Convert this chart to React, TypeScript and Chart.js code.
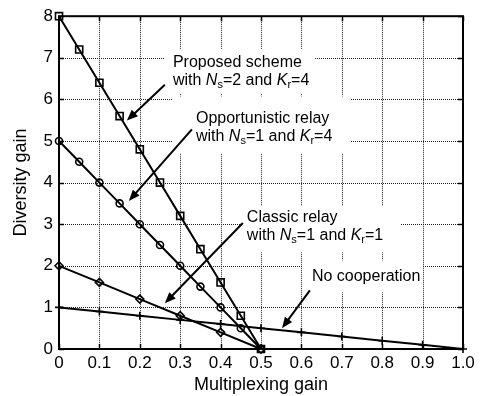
import { useEffect, useRef } from 'react';
import { Chart, registerables } from 'chart.js';

Chart.register(...registerables);

// ---- data ----
const proposedX = [0, 0.05, 0.1, 0.15, 0.2, 0.25, 0.3, 0.35, 0.4, 0.45, 0.5];
const proposedY = [8, 7.2, 6.4, 5.6, 4.8, 4.0, 3.2, 2.4, 1.6, 0.8, 0];
const opportunisticX = [0, 0.05, 0.1, 0.15, 0.2, 0.25, 0.3, 0.35, 0.4, 0.45, 0.5];
const opportunisticY = [5, 4.5, 4, 3.5, 3, 2.5, 2, 1.5, 1, 0.5, 0];
const classicX = [0, 0.1, 0.2, 0.3, 0.4, 0.5];
const classicY = [2, 1.6, 1.2, 0.8, 0.4, 0];
const noCoopX = [0, 0.1, 0.2, 0.3, 0.4, 0.5, 0.6, 0.7, 0.8, 0.9, 1.0];
const noCoopY = [1, 0.9, 0.8, 0.7, 0.6, 0.5, 0.4, 0.3, 0.2, 0.1, 0];

const xTickValues = [0, 0.1, 0.2, 0.3, 0.4, 0.5, 0.6, 0.7, 0.8, 0.9, 1.0];
const xTickLabels = ['0', '0.1', '0.2', '0.3', '0.4', '0.5', '0.6', '0.7', '0.8', '0.9', '1.0'];
const yTickValues = [0, 1, 2, 3, 4, 5, 6, 7, 8];
const yTickLabels = ['0', '1', '2', '3', '4', '5', '6', '7', '8'];

// annotation text: segments [text, style] style: '' normal, 'i' italic, 's' subscript
type Seg = [string, string];
const annotationLines: Seg[][][] = [
  [[['Proposed scheme', '']], [['with ', ''], ['N', 'i'], ['s', 's'], ['=2 and ', ''], ['K', 'i'], ['r', 's'], ['=4', '']]],
  [[['Opportunistic relay', '']], [['with ', ''], ['N', 'i'], ['s', 's'], ['=1 and ', ''], ['K', 'i'], ['r', 's'], ['=4', '']]],
  [[['Classic relay', '']], [['with ', ''], ['N', 'i'], ['s', 's'], ['=1 and ', ''], ['K', 'i'], ['r', 's'], ['=1', '']]],
  [[['No cooperation', '']]],
];
// text anchor (data units): left x, first line center y
const annotationAnchor = [
  [0.282, 6.88],
  [0.339, 5.54],
  [0.465, 3.15],
  [0.626, 1.74],
];
// white background boxes (data units): x0, x1, yTop, yBottom
const annotationBox = [
  [0.262, 0.634, 7.21, 6.14],
  [0.28, 0.72, 6.07, 4.7],
  [0.455, 0.844, 3.44, 2.32],
  [0.604, 0.901, 2.13, 1.36],
];
// arrows (data units): from x, from y, tip x, tip y
const arrows = [
  [0.262, 6.35, 0.168, 5.49],
  [0.329, 5.28, 0.173, 3.56],
  [0.455, 3.03, 0.262, 1.1],
  [0.621, 1.41, 0.552, 0.5],
];

const FONT = '"Liberation Sans", Arial, Helvetica, sans-serif';

const annotPlugin = {
  id: 'annot',
  beforeDatasetsDraw(chart: any) {
    const ctx = chart.ctx as CanvasRenderingContext2D;
    const xs = chart.scales.x;
    const ys = chart.scales.y;
    const { left, right, top, bottom } = chart.chartArea;
    ctx.save();
    // dotted grid
    ctx.fillStyle = '#222';
    xTickValues.forEach((v) => {
      const px = Math.round(xs.getPixelForValue(v));
      for (let y = top; y < bottom; y += 2) ctx.fillRect(px, y, 1, 1);
    });
    yTickValues.forEach((v) => {
      const py = Math.round(ys.getPixelForValue(v));
      for (let x = left; x < right; x += 2) ctx.fillRect(x, py, 1, 1);
    });
    // white boxes
    ctx.fillStyle = '#ffffff';
    annotationBox.forEach(([x0, x1, yt, yb]) => {
      const px0 = xs.getPixelForValue(x0);
      const px1 = xs.getPixelForValue(x1);
      const py0 = ys.getPixelForValue(yt);
      const py1 = ys.getPixelForValue(yb);
      ctx.fillRect(px0, py0, px1 - px0, py1 - py0);
    });
    ctx.fillStyle = '#000000';
    ctx.textBaseline = 'middle';
    ctx.textAlign = 'left';
    const size = 16;
    annotationLines.forEach((lines, k) => {
      const [ax, ay] = annotationAnchor[k];
      const px = xs.getPixelForValue(ax);
      const py = ys.getPixelForValue(ay);
      lines.forEach((segs, li) => {
        let cx = px;
        const cy = py + li * 18;
        segs.forEach(([t, st]) => {
          const sub = st === 's';
          const fs = sub ? 11 : size;
          ctx.font = `${st === 'i' ? 'italic ' : ''}${fs}px ${FONT}`;
          ctx.fillText(t, cx, cy + (sub ? 4 : 0));
          cx += ctx.measureText(t).width;
        });
      });
    });
    ctx.restore();
  },
  afterDatasetsDraw(chart: any) {
    const ctx = chart.ctx as CanvasRenderingContext2D;
    const xs = chart.scales.x;
    const ys = chart.scales.y;
    const { left, right, top, bottom } = chart.chartArea;
    ctx.save();
    // arrows
    ctx.strokeStyle = '#000';
    ctx.fillStyle = '#000';
    ctx.lineWidth = 2;
    arrows.forEach(([fx, fy, tx, ty]) => {
      const x0 = xs.getPixelForValue(fx);
      const y0 = ys.getPixelForValue(fy);
      const x1 = xs.getPixelForValue(tx);
      const y1 = ys.getPixelForValue(ty);
      const ang = Math.atan2(y1 - y0, x1 - x0);
      const hl = 11;
      const hw = 4.5;
      const bx = x1 - hl * Math.cos(ang);
      const by = y1 - hl * Math.sin(ang);
      ctx.beginPath();
      ctx.moveTo(x0, y0);
      ctx.lineTo(bx + 2 * Math.cos(ang), by + 2 * Math.sin(ang));
      ctx.stroke();
      ctx.beginPath();
      ctx.moveTo(x1, y1);
      ctx.lineTo(bx + hw * Math.sin(ang), by - hw * Math.cos(ang));
      ctx.lineTo(bx - hw * Math.sin(ang), by + hw * Math.cos(ang));
      ctx.closePath();
      ctx.fill();
    });
    // inward ticks
    ctx.lineWidth = 1.5;
    const tl = 5;
    ctx.beginPath();
    xTickValues.forEach((v) => {
      const px = Math.round(xs.getPixelForValue(v)) + 0.5;
      ctx.moveTo(px, bottom);
      ctx.lineTo(px, bottom - tl);
      ctx.moveTo(px, top);
      ctx.lineTo(px, top + tl);
    });
    yTickValues.forEach((v) => {
      const py = Math.round(ys.getPixelForValue(v)) + 0.5;
      ctx.moveTo(left, py);
      ctx.lineTo(left + tl, py);
      ctx.moveTo(right, py);
      ctx.lineTo(right - tl, py);
    });
    ctx.stroke();
    // frame
    ctx.lineWidth = 2;
    ctx.strokeRect(left, top, right - left, bottom - top);
    ctx.restore();
  },
};

function toPts(xv: number[], yv: number[]) {
  return xv.map((x, i) => ({ x, y: yv[i] }));
}

export default function App() {
  const ref = useRef<HTMLCanvasElement>(null);
  useEffect(() => {
    document.body.style.margin = '0';
    const ds = (data: any, style: string, radius: number) => ({
      data,
      borderColor: '#000',
      borderWidth: 2,
      pointStyle: style,
      pointRadius: radius,
      pointBorderColor: '#000',
      pointBackgroundColor: 'rgba(0,0,0,0)',
      pointBorderWidth: 1.6,
      showLine: true,
      tension: 0,
      clip: false,
    });
    const chart = new Chart(ref.current!, {
      type: 'scatter',
      data: {
        datasets: [
          ds(toPts(proposedX, proposedY), 'rect', 5),
          ds(toPts(opportunisticX, opportunisticY), 'circle', 3.5),
          ds(toPts(classicX, classicY), 'rectRot', 4),
          ds(toPts(noCoopX, noCoopY), 'cross', 4),
        ],
      } as any,
      options: {
        animation: false,
        responsive: false,
        events: [],
        layout: { padding: { left: 0, right: 17, top: 14, bottom: 0 } },
        plugins: { legend: { display: false }, tooltip: { enabled: false } },
        scales: {
          x: {
            type: 'linear',
            min: 0,
            max: 1,
            afterFit: (s: any) => { s.height = 47; },
            afterBuildTicks: (s: any) => { s.ticks = xTickValues.map((value) => ({ value })); },
            ticks: {
              padding: 4,
              color: '#000',
              font: { family: FONT, size: 17 },
              maxRotation: 0,
              autoSkip: false,
              callback: (_v: any, i: number) => xTickLabels[i],
            },
            grid: { display: false, drawTicks: false },
            border: { display: false },
            title: {
              display: true,
              text: 'Multiplexing gain',
              color: '#000',
              font: { family: FONT, size: 18 },
              padding: { top: 0, bottom: 0 },
            },
          },
          y: {
            type: 'linear',
            min: 0,
            max: 8,
            afterFit: (s: any) => { s.width = 59; },
            afterBuildTicks: (s: any) => { s.ticks = yTickValues.map((value) => ({ value })); },
            ticks: {
              padding: 6,
              color: '#000',
              font: { family: FONT, size: 17 },
              autoSkip: false,
              callback: (_v: any, i: number) => yTickLabels[i],
            },
            grid: { display: false, drawTicks: false },
            border: { display: false },
            title: {
              display: true,
              text: 'Diversity gain',
              color: '#000',
              font: { family: FONT, size: 18 },
              padding: { top: 10, bottom: 0 },
            },
          },
        },
      } as any,
      plugins: [annotPlugin],
    });
    return () => chart.destroy();
  }, []);
  return <canvas ref={ref} width={480} height={396} style={{ display: 'block' }} />;
}
